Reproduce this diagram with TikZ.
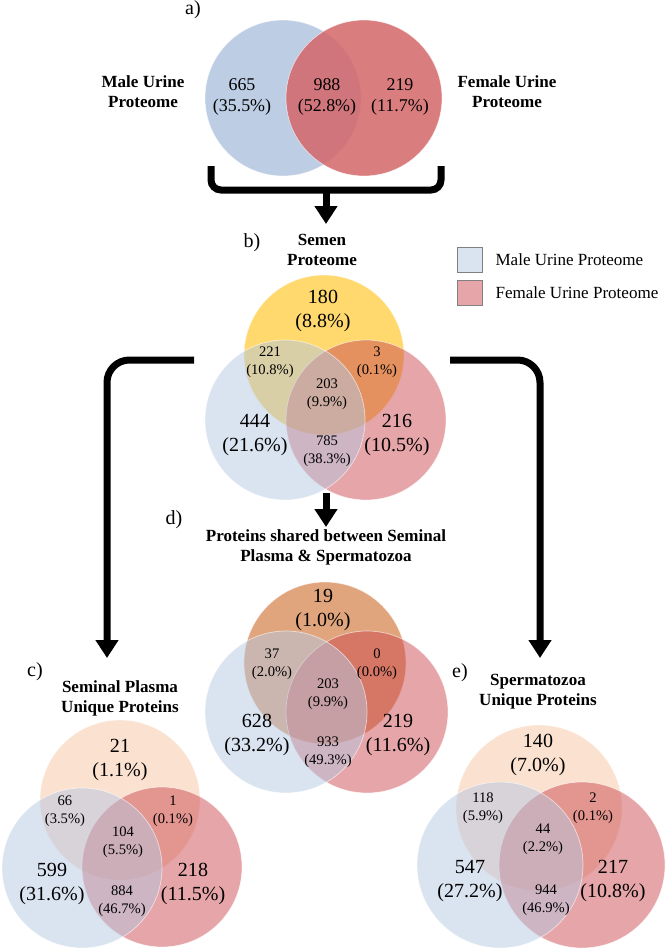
\documentclass[tikz,border=0pt]{standalone}
\usepackage{fontspec}
\setmainfont{Liberation Serif}
\usetikzlibrary{arrows.meta, positioning, math}
\definecolor{urblue}{RGB}{188,205,228}
\definecolor{urred}{RGB}{212,102,105}
\definecolor{mblue}{RGB}{181,199,225}
\definecolor{fred}{RGB}{205,75,81}
\definecolor{semyel}{RGB}{255,217,110}
\definecolor{shorange}{RGB}{225,165,125}
\definecolor{uniqpeach}{RGB}{251,225,208}

\tikzset{
  big/.style={align=center, font=\fontsize{11.4}{13.5}\selectfont},
  small/.style={align=center, font=\fontsize{8.3}{10.4}\selectfont},
  head/.style={align=center, font=\fontsize{9.7}{11.4}\selectfont\bfseries},
  panel/.style={font=\fontsize{11.4}{13}\selectfont},
  arrowline/.style={line width=0.14cm, -{Triangle[width=0.44cm,length=0.36cm]}},
  venn/.style={draw=white, draw opacity=0.6, line width=0.4pt},
}

\begin{document}
\begin{tikzpicture}[x=0.02cm,y=-0.02cm]

\tikzmath{
\ra = 78; %urine
\rb = 80; %semen
\rd = 81; %shared
\rc = 80; %seminal plasma
\re = 83; %spermatozoa
}

\useasboundingbox (0,0) rectangle (666,950);

%a) urine
\coordinate (aM) at (283,98);
\coordinate (aF) at (364,98);
\draw[venn, fill=urblue] (aM) circle (\ra);
\draw[venn, fill=urred, fill opacity=0.85] (aF) circle (\ra);
\node[panel] (aLab) at (193,10) {a)};
\node[head] (aTM) at (143,92) {Male Urine\\Proteome};
\node[head] (aTF) at (507,92) {Female Urine\\Proteome};
\node[big, font=\fontsize{10.2}{12}\selectfont] (a1) at (242,97) {665\\(35.5\%)};
\node[big, font=\fontsize{10.2}{12}\selectfont] (a2) at (327,97) {988\\(52.8\%)};
\node[big, font=\fontsize{10.2}{12}\selectfont] (a3) at (400,97) {219\\(11.7\%)};

%bracket
\coordinate (brL) at (211,166);
\coordinate (brR) at (441,166);
\coordinate (brM) at (326,190);
\coordinate (bTop) at (326,224);
\draw[line width=0.14cm, rounded corners=0.2cm] (brL) |- (brM) -| (brR);
\draw[arrowline] (brM) -- (bTop);

%b) semen
\coordinate (bS) at (324,355);
\coordinate (bF) at (366,420);
\coordinate (bM) at (285,420);
\draw[venn, fill=semyel] (bS) circle (\rb);
\draw[venn, fill=fred, fill opacity=0.5] (bF) circle (\rb);
\draw[venn, fill=mblue, fill opacity=0.5] (bM) circle (\rb);
\node[panel] (bLab) at (252,243) {b)};
\node[head] (bTitle) at (322,250) {Semen\\Proteome};
\node[big] (b1) at (323,311) {180\\(8.8\%)};
\node[small] (b2) at (270,362) {221\\(10.8\%)};
\node[small] (b3) at (377,362) {3\\(0.1\%)};
\node[small] (b4) at (327,394) {203\\(9.9\%)};
\node[big] (b5) at (255,435) {444\\(21.6\%)};
\node[big] (b6) at (397,435) {216\\(10.5\%)};
\node[small] (b7) at (327,451) {785\\(38.3\%)};

%legend
\node[draw=gray, fill=mblue!50!white, minimum size=0.5cm, inner sep=0] (legM) at (470,260) {};
\node[draw=gray, fill=fred!50!white, minimum size=0.5cm, inner sep=0] (legF) at (470,293) {};
\node[right=0.13cm of legM, font=\fontsize{9.7}{11}\selectfont] (legMt) {Male Urine Proteome};
\node[right=0.13cm of legF, font=\fontsize{9.7}{11}\selectfont] (legFt) {Female Urine Proteome};

%arrows out of b)
\coordinate (cStart) at (194,360);
\coordinate (cEnd) at (107,658);
\coordinate (eStart) at (450,360);
\coordinate (eEnd) at (540,658);
\coordinate (dStart) at (326,493);
\coordinate (dEnd) at (326,527);
\draw[arrowline, rounded corners=0.45cm] (cStart) -| (cEnd);
\draw[arrowline, rounded corners=0.45cm] (eStart) -| (eEnd);
\draw[arrowline] (dStart) -- (dEnd);

%d) shared
\coordinate (dS) at (325,663);
\coordinate (dF) at (367,712);
\coordinate (dM) at (286,712);
\draw[venn, fill=shorange] (dS) circle (\rd);
\draw[venn, fill=fred, fill opacity=0.5] (dF) circle (\rd);
\draw[venn, fill=mblue, fill opacity=0.5] (dM) circle (\rd);
\node[panel] (dLab) at (174,520) {d)};
\node[head] (dTitle) at (326,547) {Proteins shared between Seminal\\Plasma \& Spermatozoa};
\node[big] (d1) at (323,610) {19\\(1.0\%)};
\node[small] (d2) at (272,664) {37\\(2.0\%)};
\node[small] (d3) at (377,664) {0\\(0.0\%)};
\node[small] (d4) at (328,694) {203\\(9.9\%)};
\node[big] (d5) at (257,735) {628\\(33.2\%)};
\node[big] (d6) at (398,735) {219\\(11.6\%)};
\node[small] (d7) at (328,752) {933\\(49.3\%)};

%c) seminal plasma
\coordinate (cS) at (120,800);
\coordinate (cF) at (162,867);
\coordinate (cM) at (82,868);
\draw[venn, fill=uniqpeach] (cS) circle (\rc);
\draw[venn, fill=fred, fill opacity=0.5] (cF) circle (\rc);
\draw[venn, fill=mblue, fill opacity=0.5] (cM) circle (\rc);
\node[panel] (cLab) at (35,672) {c)};
\node[head] (cTitle) at (120,698) {Seminal Plasma\\Unique Proteins};
\node[big] (c1) at (120,760) {21\\(1.1\%)};
\node[small] (c2) at (65,811) {66\\(3.5\%)};
\node[small] (c3) at (173,811) {1\\(0.1\%)};
\node[small] (c4) at (123,842) {104\\(5.5\%)};
\node[big] (c5) at (52,884) {599\\(31.6\%)};
\node[big] (c6) at (193,884) {218\\(11.5\%)};
\node[small] (c7) at (122,901) {884\\(46.7\%)};

%e) spermatozoa
\coordinate (eS) at (539,808);
\coordinate (eF) at (582,865);
\coordinate (eM) at (500,865);
\draw[venn, fill=uniqpeach] (eS) circle (\re);
\draw[venn, fill=fred, fill opacity=0.5] (eF) circle (\re);
\draw[venn, fill=mblue, fill opacity=0.5] (eM) circle (\re);
\node[panel] (eLab) at (460,673) {e)};
\node[head] (eTitle) at (538,692) {Spermatozoa\\Unique Proteins};
\node[big] (e1) at (538,755) {140\\(7.0\%)};
\node[small] (e2) at (483,808) {118\\(5.9\%)};
\node[small] (e3) at (593,808) {2\\(0.1\%)};
\node[small] (e4) at (543,839) {44\\(2.2\%)};
\node[big] (e5) at (470,881) {547\\(27.2\%)};
\node[big] (e6) at (613,881) {217\\(10.8\%)};
\node[small] (e7) at (546,900) {944\\(46.9\%)};

\end{tikzpicture}
\end{document}
